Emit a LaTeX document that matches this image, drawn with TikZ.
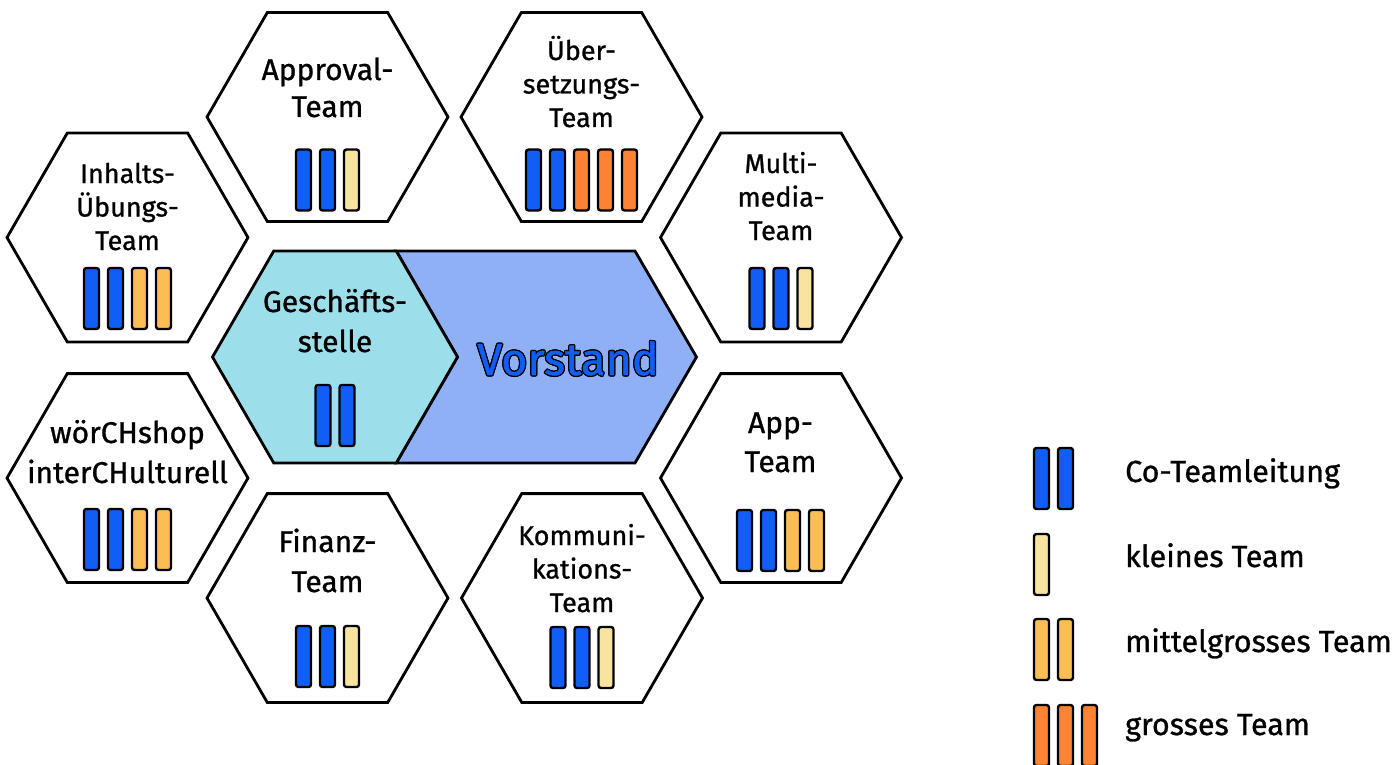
\documentclass[tikz,border=0pt]{standalone}
\usepackage{fontspec}
\setmainfont{Fira Sans}[UprightFeatures={FakeBold=0.9}]
\definecolor{cobl}{HTML}{105EF6}
\definecolor{smallc}{HTML}{F8E49E}
\definecolor{midc}{HTML}{FABE55}
\definecolor{bigc}{HTML}{FC8332}
\definecolor{gsc}{HTML}{9DDEEB}
\definecolor{vorc}{HTML}{8FB0F5}
\newcommand\hexa[3]{\draw[hexline,#3] (#1-120.5,#2) -- ++(60.25,-104.4) -- ++(120.5,0) -- ++(60.25,104.4) -- ++(-60.25,104.4) -- ++(-120.5,0) -- cycle;}
\newcommand\teambars[4]{\foreach \c [count=\i from 0] in {#4} {\draw[teambar,fill=\c] ({#1-(#3-1)*12+\i*24-7.5},#2) rectangle ++(15,61);}}
\tikzset{
  hexline/.style={line width=2.8pt, line join=miter, fill=white},
  teambar/.style={line width=2.4pt, rounded corners=2.5pt, draw=black},
  lbl/.style={anchor=base, inner sep=0pt, font=\fontsize{30}{36}\selectfont},
  lbls/.style={anchor=base, inner sep=0pt, font=\fontsize{27}{32}\selectfont},
  leg/.style={anchor=base west, inner sep=0pt, font=\fontsize{30.5}{36}\selectfont},
  vor/.style={anchor=base, inner sep=0pt, font=\fontsize{45}{54}\selectfont}
}
\begin{document}
\begin{tikzpicture}[x=1pt,y=-1pt]
\useasboundingbox (0,0) rectangle (1397,765);
% centre block
\draw[line width=2.8pt, line join=miter, fill=vorc] (396.25,251) -- (635,251) -- (696.5,357) -- (635,463) -- (396.25,463) -- (457.5,357) -- cycle;
\draw[line width=2.8pt, line join=miter, fill=gsc] (212.5,357) -- (273.75,251) -- (396.25,251) -- (457.5,357) -- (396.25,463) -- (273.75,463) -- cycle;
% hexagons
\hexa{327.5}{117}{}
\hexa{581.5}{117}{}
\hexa{127.5}{237.5}{}
\hexa{781}{237.5}{}
\hexa{127.5}{478}{}
\hexa{781}{478}{}
\hexa{327.5}{598}{}
\hexa{582}{598}{}
% labels
\node[lbl] (ap1) at (327.5,80) {Approval-};
\node[lbl] (ap2) at (327.5,117) {Team};
\node[lbls] (ue1) at (581.5,60) {Über-};
\node[lbls] (ue2) at (581.5,93.5) {setzungs-};
\node[lbls] (ue3) at (581.5,127) {Team};
\node[lbls] (in1) at (127.5,183) {Inhalts-};
\node[lbls] (in2) at (127.5,216.5) {Übungs-};
\node[lbls] (in3) at (127.5,250) {Team};
\node[lbls] (mm1) at (781,173) {Multi-};
\node[lbls] (mm2) at (781,206.5) {media-};
\node[lbls] (mm3) at (781,240) {Team};
\node[lbl] (gs1) at (335,312) {Geschäfts-};
\node[lbl] (gs2) at (335,352) {stelle};
\node[lbl] (wo1) at (127.5,443) {wörCHshop};
\node[lbl] (wo2) at (127.5,483) {interCHulturell};
\node[lbl] (app1) at (780.5,433) {App-};
\node[lbl] (app2) at (780.5,472) {Team};
\node[lbl] (fi1) at (327.5,552) {Finanz-};
\node[lbl] (fi2) at (327.5,592) {Team};
\node[lbls] (ko1) at (582,545) {Kommuni-};
\node[lbls] (ko2) at (582,578.5) {kations-};
\node[lbls] (ko3) at (582,612) {Team};
% Vorstand outlined text
\foreach \dx/\dy [count=\k] in {1.3/0,-1.3/0,0/1.3,0/-1.3,0.95/0.95,-0.95/0.95,0.95/-0.95,-0.95/-0.95}
  \node[vor, text=black] (vo\k) at (568+\dx,375+\dy) {Vorstand};
\node[vor, text=cobl] (vorstand) at (568,375) {Vorstand};
% bars
\teambars{327.5}{149.5}{3}{cobl,cobl,smallc}
\teambars{581.5}{149.5}{5}{cobl,cobl,bigc,bigc,bigc}
\teambars{127.5}{268}{4}{cobl,cobl,midc,midc}
\teambars{781}{268}{3}{cobl,cobl,smallc}
\teambars{335}{385}{2}{cobl,cobl}
\teambars{127.5}{509}{4}{cobl,cobl,midc,midc}
\teambars{780.5}{510}{4}{cobl,cobl,midc,midc}
\teambars{327.5}{626}{3}{cobl,cobl,smallc}
\teambars{582}{627}{3}{cobl,cobl,smallc}
% legend
\teambars{1053.5}{448}{2}{cobl,cobl}
\teambars{1041.5}{534}{1}{smallc}
\teambars{1053.5}{619}{2}{midc,midc}
\teambars{1065.5}{705}{3}{bigc,bigc,bigc}
\node[leg] (l1) at (1125,482) {Co-Teamleitung};
\node[leg] (l2) at (1125,567) {kleines Team};
\node[leg] (l3) at (1125,652) {mittelgrosses Team};
\node[leg] (l4) at (1125,735) {grosses Team};
\end{tikzpicture}
\end{document}
